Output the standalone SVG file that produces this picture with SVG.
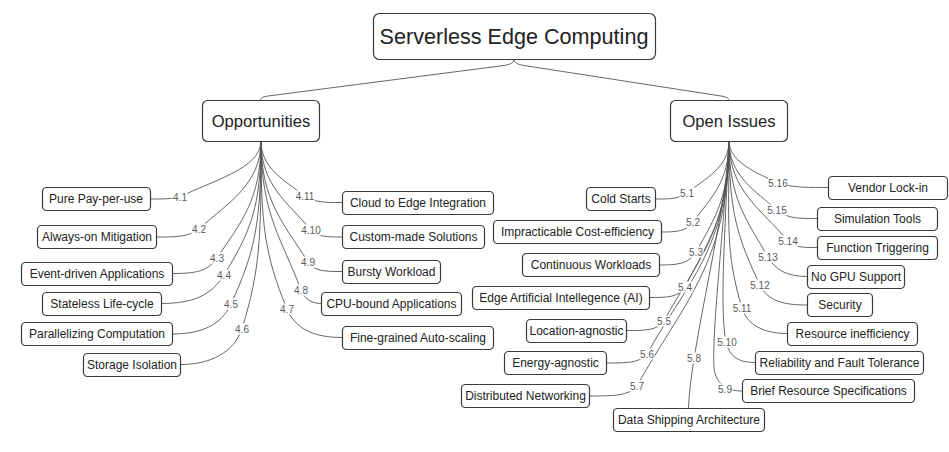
<svg xmlns="http://www.w3.org/2000/svg" width="949" height="452" viewBox="0 0 949 452">
<style>
.box{fill:#fff;stroke:#3a3a3a;stroke-width:1.2}
.t{font-family:"Liberation Sans",Arial,sans-serif;fill:#222;text-anchor:middle}
.leaf{font-size:12px}
.mid{font-size:16.6px}
.root{font-size:21.6px}
.c{fill:none;stroke:#555;stroke-width:0.9}
.bg{fill:#fff}
.lbl{font-family:"Liberation Sans",Arial,sans-serif;font-size:10px;fill:#5a5a5a;text-anchor:middle}
</style>
<rect width="949" height="452" fill="#fff"/>
<g id="connectors">
<path class="c" d="M514,59.3 C514,63 510,64.5 504,65.5 L268,96 C262,97 260.3,98 260.3,100.7"/>
<path class="c" d="M514,59.3 C514,63 518,64.5 524,65.5 L721,96 C727,97 728.7,98 728.7,100.7"/>
<path class="c" d="M261,141 C261,169 210.6,181 180,197 C170.7,199 165,199 150,199"/>
<path class="c" d="M261,141 C261,185 226.8,203.6 199,229 C187.7,237 177.5,237 156,237"/>
<path class="c" d="M261,141 C261,199.5 241.4,221.7 217,258 C207.7,271.9 194.5,273.5 172,273.5"/>
<path class="c" d="M261,141 C261,208 249.5,233.5 224,275 C211.3,295.6 192.5,303.5 161,303.5"/>
<path class="c" d="M261,141 C261,222.5 255.3,251.3 231,304 C221.3,325.1 201.5,334 172,334"/>
<path class="c" d="M261,141 C261,235 261,266.9 242,329 C233.5,352.5 211,364.5 180,364.5"/>
<path class="c" d="M261,141 C261,168.5 285.4,181.1 305,196 C315.5,202.5 323.5,202.5 342,202.5"/>
<path class="c" d="M261,141 C261,185.5 288,202.7 311,230 C318.2,237 326.5,237 342,237"/>
<path class="c" d="M261,141 C261,201.5 284.1,223.4 308,262 C314.5,271.5 325,271.5 342,271.5"/>
<path class="c" d="M261,141 C261,215.5 282.3,239.3 301,290 C303.9,297.9 311,303.5 321,303.5"/>
<path class="c" d="M261,141 C261,225 264.3,254 287,309 C295.3,329.1 314.5,337.5 342,337.5"/>
<path class="c" d="M729,141 C729,167 705.4,178.6 687,193 C678,199 671,199 655,199"/>
<path class="c" d="M729,141 C729,181.5 711.6,197.2 693,222 C686,231.4 677,232 661,232"/>
<path class="c" d="M729,141 C729,196.5 715.9,216.7 696,252 C689.3,263.9 677.5,265 659,265"/>
<path class="c" d="M729,141 C729,214 709.3,239.5 685,287 C679,297.5 667,297.5 649,297.5"/>
<path class="c" d="M729,141 C729,231 696,262.1 664,321 C657.5,330.5 645,330.5 626,330.5"/>
<path class="c" d="M729,141 C729,247.5 685.8,284.1 647,354 C639.9,363 626.5,363 606,363"/>
<path class="c" d="M729,141 C729,263.5 681.1,305.7 637,386 C628.7,396 613,396 589,396"/>
<path class="c" d="M729,141 C729,200 690,350 688.5,408"/>
<path class="c" d="M729,141 C722,250 712,330 714,368 C716,385 728,391 742,391"/>
<path class="c" d="M729,141 C724,250 720,310 726,342 C730,358 740,362.5 755,362.5"/>
<path class="c" d="M729,141 C729,224.5 725.1,251.9 742,308 C747.2,325.3 764.5,333.5 787,333.5"/>
<path class="c" d="M729,141 C729,213 737.8,238.4 760,285 C767.7,301.2 783.5,305 807,305"/>
<path class="c" d="M729,141 C729,199 746.6,219.9 768,257 C775.6,270.3 787.5,276.5 807,276.5"/>
<path class="c" d="M729,141 C729,191 762.1,209.7 788,241 C794.6,247.5 802.5,247.5 817,247.5"/>
<path class="c" d="M729,141 C729,175.5 755,190.6 777,210 C787.7,218.5 797,218.5 817,218.5"/>
<path class="c" d="M729,141 C729,162 757.5,173.4 778,183 C793.9,187.5 803,187.5 828,187.5"/>
<g id="labels">
<rect class="bg" x="172.5" y="191.5" width="15" height="11"/><text class="lbl" x="180" y="200.5">4.1</text>
<rect class="bg" x="191.5" y="223.5" width="15" height="11"/><text class="lbl" x="199" y="232.5">4.2</text>
<rect class="bg" x="209.5" y="252.5" width="15" height="11"/><text class="lbl" x="217" y="261.5">4.3</text>
<rect class="bg" x="216.5" y="269.5" width="15" height="11"/><text class="lbl" x="224" y="278.5">4.4</text>
<rect class="bg" x="223.5" y="298.5" width="15" height="11"/><text class="lbl" x="231" y="307.5">4.5</text>
<rect class="bg" x="234.5" y="323.5" width="15" height="11"/><text class="lbl" x="242" y="332.5">4.6</text>
<rect class="bg" x="295" y="190.5" width="20" height="11"/><text class="lbl" x="305" y="199.5">4.11</text>
<rect class="bg" x="301" y="224.5" width="20" height="11"/><text class="lbl" x="311" y="233.5">4.10</text>
<rect class="bg" x="300.5" y="256.5" width="15" height="11"/><text class="lbl" x="308" y="265.5">4.9</text>
<rect class="bg" x="293.5" y="284.5" width="15" height="11"/><text class="lbl" x="301" y="293.5">4.8</text>
<rect class="bg" x="279.5" y="303.5" width="15" height="11"/><text class="lbl" x="287" y="312.5">4.7</text>
<rect class="bg" x="679.5" y="187.5" width="15" height="11"/><text class="lbl" x="687" y="196.5">5.1</text>
<rect class="bg" x="685.5" y="216.5" width="15" height="11"/><text class="lbl" x="693" y="225.5">5.2</text>
<rect class="bg" x="688.5" y="246.5" width="15" height="11"/><text class="lbl" x="696" y="255.5">5.3</text>
<rect class="bg" x="677.5" y="281.5" width="15" height="11"/><text class="lbl" x="685" y="290.5">5.4</text>
<rect class="bg" x="656.5" y="315.5" width="15" height="11"/><text class="lbl" x="664" y="324.5">5.5</text>
<rect class="bg" x="639.5" y="348.5" width="15" height="11"/><text class="lbl" x="647" y="357.5">5.6</text>
<rect class="bg" x="629.5" y="380.5" width="15" height="11"/><text class="lbl" x="637" y="389.5">5.7</text>
<rect class="bg" x="686.5" y="352.5" width="15" height="11"/><text class="lbl" x="694" y="361.5">5.8</text>
<rect class="bg" x="717.5" y="383.5" width="15" height="11"/><text class="lbl" x="725" y="392.5">5.9</text>
<rect class="bg" x="717" y="336.5" width="20" height="11"/><text class="lbl" x="727" y="345.5">5.10</text>
<rect class="bg" x="732" y="302.5" width="20" height="11"/><text class="lbl" x="742" y="311.5">5.11</text>
<rect class="bg" x="750" y="279.5" width="20" height="11"/><text class="lbl" x="760" y="288.5">5.12</text>
<rect class="bg" x="758" y="251.5" width="20" height="11"/><text class="lbl" x="768" y="260.5">5.13</text>
<rect class="bg" x="778" y="235.5" width="20" height="11"/><text class="lbl" x="788" y="244.5">5.14</text>
<rect class="bg" x="767" y="204.5" width="20" height="11"/><text class="lbl" x="777" y="213.5">5.15</text>
<rect class="bg" x="768" y="177.5" width="20" height="11"/><text class="lbl" x="778" y="186.5">5.16</text>
</g>
</g>
<g id="root"><rect class="box" x="373.5" y="13.5" width="282" height="46" rx="6"/><text class="t root" x="514" y="44">Serverless Edge Computing</text></g>
<g id="opportunities"><rect class="box" x="202.5" y="100.5" width="117" height="41" rx="5"/><text class="t mid" x="261" y="127">Opportunities</text></g>
<g id="open-issues"><rect class="box" x="670.5" y="100.5" width="117" height="41" rx="5"/><text class="t mid" x="729" y="127">Open Issues</text></g>
<g id="p1"><rect class="box" x="42.5" y="187.5" width="108" height="23" rx="4"/><text class="t leaf" x="96" y="203.3">Pure Pay-per-use</text></g>
<g id="p2"><rect class="box" x="37.5" y="225.5" width="119" height="23" rx="4"/><text class="t leaf" x="97" y="241.3">Always-on Mitigation</text></g>
<g id="p3"><rect class="box" x="21.5" y="262.5" width="151" height="23" rx="4"/><text class="t leaf" x="97" y="278.3">Event-driven Applications</text></g>
<g id="p4"><rect class="box" x="42.5" y="292.5" width="119" height="23" rx="4"/><text class="t leaf" x="102" y="308.3">Stateless Life-cycle</text></g>
<g id="p5"><rect class="box" x="21.5" y="322.5" width="151" height="23" rx="4"/><text class="t leaf" x="97" y="338.3">Parallelizing Computation</text></g>
<g id="p6"><rect class="box" x="83.5" y="353.5" width="97" height="23" rx="4"/><text class="t leaf" x="132" y="369.3">Storage Isolation</text></g>
<g id="p11"><rect class="box" x="342.5" y="191.5" width="151" height="23" rx="4"/><text class="t leaf" x="418" y="207.3">Cloud to Edge Integration</text></g>
<g id="p10"><rect class="box" x="342.5" y="225.5" width="142" height="23" rx="4"/><text class="t leaf" x="413.5" y="241.3">Custom-made Solutions</text></g>
<g id="p9"><rect class="box" x="342.5" y="260.5" width="98" height="23" rx="4"/><text class="t leaf" x="391.5" y="276.3">Bursty Workload</text></g>
<g id="p8"><rect class="box" x="321.5" y="292.5" width="140" height="23" rx="4"/><text class="t leaf" x="391.5" y="308.3">CPU-bound Applications</text></g>
<g id="p7"><rect class="box" x="342.5" y="326.5" width="151" height="23" rx="4"/><text class="t leaf" x="418" y="342.3">Fine-grained Auto-scaling</text></g>
<g id="o1"><rect class="box" x="586.5" y="187.5" width="69" height="23" rx="4"/><text class="t leaf" x="621" y="203.3">Cold Starts</text></g>
<g id="o2"><rect class="box" x="493.5" y="220.5" width="168" height="23" rx="4"/><text class="t leaf" x="577.5" y="236.3">Impracticable Cost-efficiency</text></g>
<g id="o3"><rect class="box" x="522.5" y="253.5" width="137" height="23" rx="4"/><text class="t leaf" x="591" y="269.3">Continuous Workloads</text></g>
<g id="o4"><rect class="box" x="472.5" y="286.5" width="177" height="23" rx="4"/><text class="t leaf" x="561" y="302.3">Edge Artificial Intellegence (AI)</text></g>
<g id="o5"><rect class="box" x="526.5" y="319.5" width="100" height="23" rx="4"/><text class="t leaf" x="576.5" y="335.3">Location-agnostic</text></g>
<g id="o6"><rect class="box" x="504.5" y="351.5" width="102" height="23" rx="4"/><text class="t leaf" x="555.5" y="367.3">Energy-agnostic</text></g>
<g id="o7"><rect class="box" x="461.5" y="384.5" width="128" height="23" rx="4"/><text class="t leaf" x="525.5" y="400.3">Distributed Networking</text></g>
<g id="o8"><rect class="box" x="613.5" y="408.5" width="151" height="23" rx="4"/><text class="t leaf" x="689" y="424.3">Data Shipping Architecture</text></g>
<g id="o16"><rect class="box" x="828.5" y="176.5" width="119" height="23" rx="4"/><text class="t leaf" x="888" y="192.3">Vendor Lock-in</text></g>
<g id="o15"><rect class="box" x="817.5" y="207.5" width="120" height="23" rx="4"/><text class="t leaf" x="877.5" y="223.3">Simulation Tools</text></g>
<g id="o14"><rect class="box" x="817.5" y="236.5" width="120" height="23" rx="4"/><text class="t leaf" x="877.5" y="252.3">Function Triggering</text></g>
<g id="o13"><rect class="box" x="807.5" y="265.5" width="97" height="23" rx="4"/><text class="t leaf" x="856" y="281.3">No GPU Support</text></g>
<g id="o12"><rect class="box" x="807.5" y="293.5" width="65" height="23" rx="4"/><text class="t leaf" x="840" y="309.3">Security</text></g>
<g id="o11"><rect class="box" x="787.5" y="322.5" width="130" height="23" rx="4"/><text class="t leaf" x="852.5" y="338.3">Resource inefficiency</text></g>
<g id="o10"><rect class="box" x="755.5" y="351.5" width="168" height="23" rx="4"/><text class="t leaf" x="839.5" y="367.3">Reliability and Fault Tolerance</text></g>
<g id="o9"><rect class="box" x="742.5" y="379.5" width="172" height="23" rx="4"/><text class="t leaf" x="828.5" y="395.3">Brief Resource Specifications</text></g>
</svg>
